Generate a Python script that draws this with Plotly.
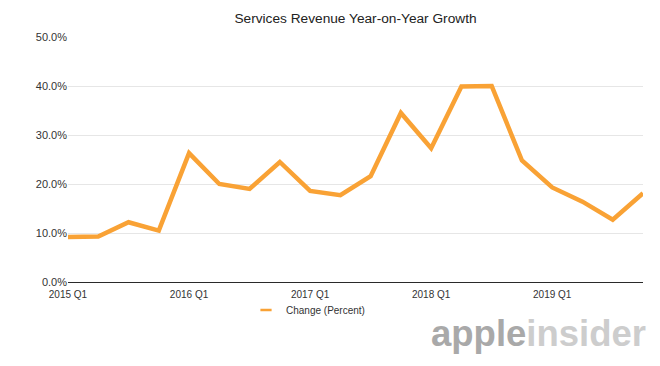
import plotly.graph_objects as go

quarters = [f"{y} Q{q}" for y in range(2015, 2020) for q in range(1, 5)]
growth = [9.2, 9.3, 12.2, 10.5, 26.3, 20.0, 19.0, 24.5, 18.6, 17.7,
          21.6, 34.5, 27.3, 39.9, 40.0, 24.8, 19.3, 16.4, 12.7, 18.1]
tick_labels = ["2015 Q1", "2016 Q1", "2017 Q1", "2018 Q1", "2019 Q1"]
y_ticks = [0, 10, 20, 30, 40, 50]
y_tick_text = [f"{v:.1f}%" for v in y_ticks]

ORANGE = "#F9A235"
FONT = "Liberation Sans, Arial, Helvetica, sans-serif"

fig = go.Figure()
fig.add_trace(go.Scatter(
    x=quarters, y=growth, mode="lines",
    line=dict(color=ORANGE, width=4.5),
    showlegend=False, name="Change (Percent)",
))
# legend entry (short dash like the original)
fig.add_trace(go.Scatter(
    x=[None], y=[None], mode="markers", name="Change (Percent)",
    marker=dict(symbol="line-ew", size=8, color=ORANGE,
                line=dict(color=ORANGE, width=2.5)),
))

fig.update_layout(
    width=660, height=366,
    margin=dict(l=68, r=17, t=37, b=84),
    paper_bgcolor="white", plot_bgcolor="white",
    font=dict(family=FONT, size=11, color="#333333"),
    title=dict(text="Services Revenue Year-on-Year Growth",
               x=(68 + 643) / 2 / 660, xanchor="center",
               y=1 - 18 / 366, yanchor="middle",
               font=dict(size=13.7, color="#222222")),
    xaxis=dict(
        type="category", range=[0, len(quarters) - 1],
        tickvals=tick_labels, ticktext=tick_labels,
        showgrid=False, showline=True, linecolor="#2a2a2a", linewidth=1.3,
        ticks="", ticklen=0, ticklabelstandoff=3,
        tickfont=dict(size=10, color="#333333"),
    ),
    yaxis=dict(
        range=[0, 50], tickvals=y_ticks, ticktext=y_tick_text,
        showgrid=True, gridcolor="#e6e6e6", gridwidth=1,
        zeroline=False, showline=False, ticks="",
        tickfont=dict(size=11, color="#333333"),
    ),
    legend=dict(orientation="h", x=(246 - 68) / 575, xanchor="left",
                y=(282 - 310) / 245, yanchor="middle",
                font=dict(size=10, color="#333333"),
                bgcolor="rgba(0,0,0,0)"),
    annotations=[dict(
        text="<b><span style='color:#a9a9a9'>apple</span>"
             "<span style='color:#cdcdcd'>insider</span></b>",
        xref="paper", yref="paper",
        x=(648 - 68) / 575, xanchor="right",
        y=(282 - 334) / 245, yanchor="middle",
        showarrow=False, font=dict(size=36.5, family=FONT),
    )],
)

fig.write_html("out.html", config={"displayModeBar": False},
               post_script="document.body.style.margin='0';")
